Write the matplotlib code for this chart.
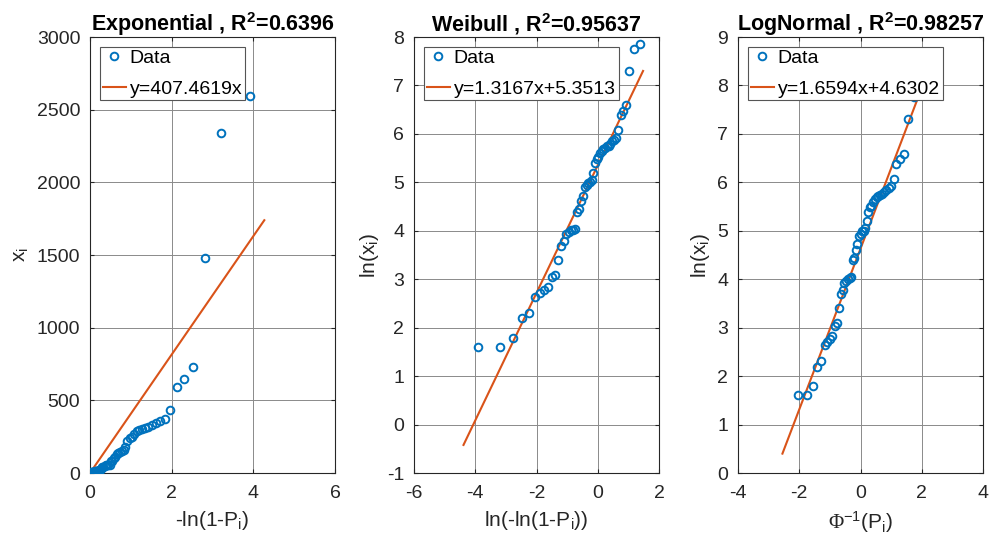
import numpy as np
import matplotlib
matplotlib.use("Agg")
import matplotlib.pyplot as plt
from statistics import NormalDist

plt.rcParams['font.family'] = ['Liberation Sans', 'DejaVu Sans']
plt.rcParams['mathtext.fontset'] = 'custom'
plt.rcParams['mathtext.rm'] = 'Liberation Sans'
plt.rcParams['mathtext.it'] = 'Liberation Sans'
plt.rcParams['mathtext.bf'] = 'Liberation Sans:bold'
plt.rcParams['mathtext.sf'] = 'Liberation Serif'
plt.rcParams['axes.unicode_minus'] = False

observations = [5, 5, 6, 9, 10, 14, 15, 16, 17, 21,
                22, 30, 40, 44, 51, 53, 55, 56, 57, 81,
                85, 100, 113, 134, 140, 147, 149, 157, 181, 220,
                240, 250, 270, 286, 296, 304, 311, 317, 330, 346,
                357, 372, 435, 595, 648, 727, 1478, 2338, 2594]

titles = ['Exponential', 'Weibull', 'LogNormal']
r_squared = ['0.6396', '0.95637', '0.98257']
slopes = [407.4619, 1.3167, 1.6594]
intercepts = [0.0, 5.3513, 4.6302]
fit_labels = ['y=407.4619x', 'y=1.3167x+5.3513', 'y=1.6594x+4.6302']
fit_p_lo = [0.0124, 0.0124, 0.0054]
fit_p_hi = [0.9860, 0.9876, 0.9876]

xlabels = ['-ln(1-P$_\\mathregular{i}$)', 'ln(-ln(1-P$_\\mathregular{i}$))',
           '$\\mathsf{\\Phi}^{\\mathregular{-1}}$(P$_\\mathregular{i}$)']
ylabels = ['x$_\\mathregular{i}$', 'ln(x$_\\mathregular{i}$)', 'ln(x$_\\mathregular{i}$)']
xlims = [(0, 6), (-6, 2), (-4, 4)]
ylims = [(0, 3000), (-1, 8), (0, 9)]
xticks = [[0, 2, 4, 6], [-6, -4, -2, 0, 2], [-4, -2, 0, 2, 4]]
yticks = [list(range(0, 3001, 500)), list(range(-1, 9)), list(range(0, 10))]

x = np.array(observations, dtype=float)
n = len(x)
P = np.arange(1, n + 1) / (n + 1)
nd = NormalDist()

def tx(k, p):
    p = np.asarray(p, dtype=float)
    if k == 0:
        return -np.log(1 - p)
    if k == 1:
        return np.log(-np.log(1 - p))
    return np.array([nd.inv_cdf(v) for v in np.atleast_1d(p)])

def ty(k, v):
    return v if k == 0 else np.log(v)

blue = '#0072BD'
orange = '#D95319'
dark = '#262626'

fig = plt.figure(figsize=(9.91, 5.46), dpi=100)
W, H = 991, 546
lefts = [90, 414, 738]
top, bottom = 37, 473
aw = 245

for k in range(3):
    ax = fig.add_axes([lefts[k] / W, (H - bottom) / H, aw / W, (bottom - top) / H])
    xs = tx(k, P)
    ys = ty(k, x)
    ax.plot(xs, ys, 'o', ls='none', mfc='none', mec=blue, ms=5.5, mew=1.4,
            label='Data', zorder=3)
    lx = np.concatenate([tx(k, [fit_p_lo[k]]), tx(k, [fit_p_hi[k]])])
    ax.plot(lx, slopes[k] * lx + intercepts[k], '-', color=orange, lw=1.5,
            label=fit_labels[k], zorder=2)
    ax.set_xlim(*xlims[k])
    ax.set_ylim(*ylims[k])
    ax.set_xticks(xticks[k])
    ax.set_yticks(yticks[k])
    ax.grid(True, color='#8a8a8a', lw=0.7)
    ax.set_axisbelow(True)
    ax.tick_params(direction='in', length=3, labelsize=14, colors=dark,
                   top=True, right=True)
    ax.tick_params(axis='x', pad=9)
    ax.tick_params(axis='y', pad=7)
    for s in ax.spines.values():
        s.set_color(dark)
        s.set_linewidth(0.8)
    ax.set_title(f'{titles[k]} , R$^{{\\mathbf{{2}}}}$={r_squared[k]}',
                 fontsize=15.5, fontweight='bold', pad=4)
    ax.set_xlabel(xlabels[k], fontsize=15, color=dark, labelpad=5)
    ax.set_ylabel(ylabels[k], fontsize=15, color=dark, labelpad=4)
    leg = ax.legend(loc='upper left', fontsize=14, frameon=True, fancybox=False,
                    framealpha=1, edgecolor='#555555', borderaxespad=0.5,
                    handlelength=1.2, handletextpad=0.2, borderpad=0.15,
                    labelspacing=0.65)
    leg.get_frame().set_linewidth(0.8)
    leg.set_zorder(5)

fig.savefig('out.png', dpi=100)
